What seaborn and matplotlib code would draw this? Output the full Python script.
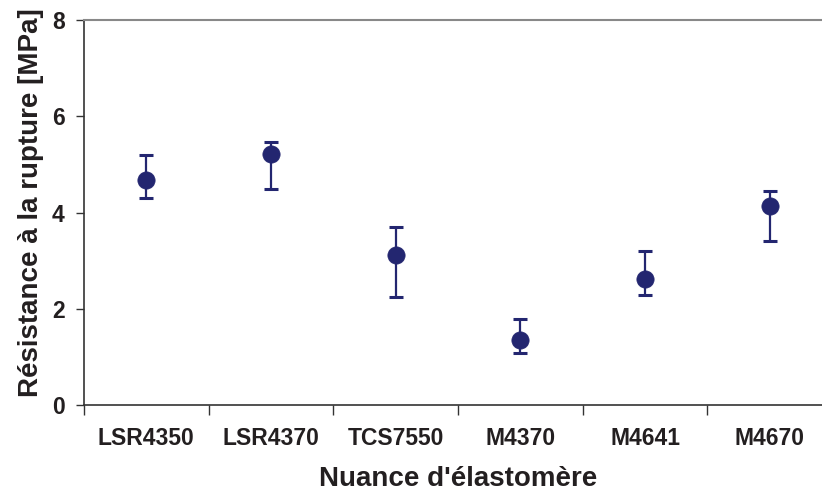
import numpy as np
import pandas as pd
import seaborn as sns
import matplotlib.pyplot as plt
from matplotlib.ticker import FixedLocator, NullFormatter

nuances = ["LSR4350", "LSR4370", "TCS7550", "M4370", "M4641", "M4670"]
resistance = [4.67, 5.22, 3.11, 1.35, 2.62, 4.13]
err_haut = [5.20, 5.46, 3.70, 1.78, 3.19, 4.44]
err_bas = [4.31, 4.48, 2.25, 1.08, 2.29, 3.40]

df = pd.DataFrame({"nuance": nuances, "resistance": resistance})

sns.set_style("white")
plt.rcParams["font.family"] = ["Liberation Sans", "DejaVu Sans"]

couleur = "#232670"

fig = plt.figure(figsize=(8.22, 4.93), dpi=100)
ax = fig.add_axes([84 / 822, 88 / 493, 748 / 822, 385 / 493])

pos = np.arange(len(nuances))
y = np.array(resistance)
yerr = [y - np.array(err_bas), np.array(err_haut) - y]
ax.errorbar(pos, y, yerr=yerr, fmt="none", ecolor=couleur, elinewidth=1.6,
            capsize=5, capthick=2.2, zorder=2)
sns.scatterplot(data=df, x=pos, y="resistance", ax=ax, color=couleur, s=155,
                edgecolor=couleur, linewidth=0.5, zorder=3, legend=False)

ax.set_xlim(-0.5, len(nuances) - 0.5)
ax.set_ylim(0, 8)
ax.set_yticks([0, 2, 4, 6, 8])

ax.xaxis.set_major_locator(FixedLocator(np.arange(-0.5, len(nuances), 1.0)))
ax.xaxis.set_major_formatter(NullFormatter())
ax.xaxis.set_minor_locator(FixedLocator(pos))
ax.set_xticklabels(nuances, minor=True)
ax.tick_params(axis="x", which="major", direction="out", length=7, width=1, color="#333333", bottom=True)
ax.tick_params(axis="x", which="minor", length=0, pad=16, labelsize=16.5)
ax.tick_params(axis="y", direction="out", length=6, width=1, color="#333333", left=True,
               pad=8, labelsize=16.5)
for lab in ax.get_xticklabels(minor=True) + ax.get_yticklabels():
    lab.set_fontweight("bold")
    lab.set_color("#231f20")

for s in ["left", "bottom"]:
    ax.spines[s].set_color("#333333")
    ax.spines[s].set_linewidth(1.2)
ax.spines["top"].set_color("#888888")
ax.spines["top"].set_linewidth(1.5)
ax.spines["right"].set_visible(False)

ax.set_xlabel("Nuance d'élastomère", fontsize=20, fontweight="bold", color="#231f20", labelpad=11)
ax.set_ylabel("Résistance à la rupture [MPa]", fontsize=20, fontweight="bold", color="#231f20")
ax.yaxis.set_label_coords(-0.054, 0.525)

fig.savefig("out.png", dpi=100)
